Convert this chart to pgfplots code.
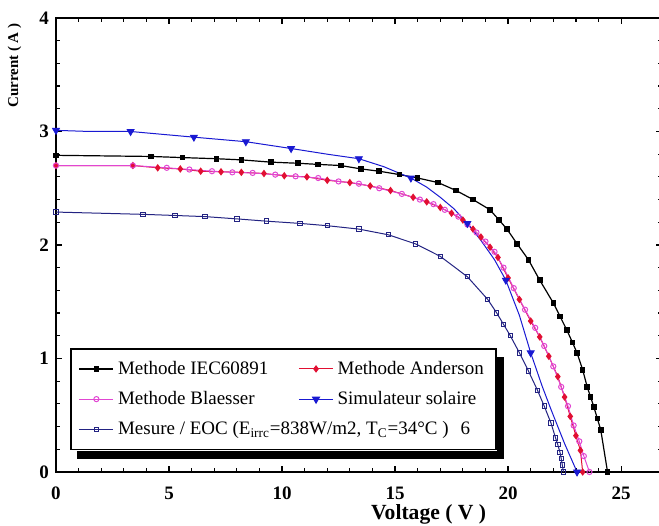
\documentclass[border=0pt]{standalone}
\usepackage{fontspec}
\setmainfont{Liberation Serif}
\usepackage{pgfplots}
\pgfplotsset{compat=1.18}
\definecolor{cAnd}{RGB}{225,15,50}
\definecolor{cBla}{RGB}{225,70,210}
\definecolor{cSim}{RGB}{25,25,210}
\definecolor{cMes}{RGB}{35,35,130}

\pgfplotstableread{
V I
0 2.79
4.2 2.78
5.6 2.77
7.1 2.76
8.2 2.75
9.5 2.73
10.7 2.72
11.6 2.71
12.6 2.70
13.5 2.67
14.3 2.65
15.2 2.62
16.0 2.59
16.9 2.55
17.7 2.48
18.45 2.40
19.2 2.31
19.6 2.22
19.95 2.14
20.4 2.01
20.9 1.87
21.4 1.69
22.0 1.49
22.3 1.37
22.6 1.25
22.85 1.14
23.05 1.05
23.3 0.90
23.5 0.75
23.65 0.66
23.8 0.57
23.95 0.47
24.1 0.37
24.4 0.0
}\iec

\pgfplotstableread{
V I
0 2.70
3.4 2.70
4.5 2.68
5.5 2.67
6.4 2.65
7.3 2.645
8.2 2.64
9.2 2.63
10.1 2.61
11.1 2.60
12.0 2.57
13.0 2.55
13.9 2.52
14.8 2.48
15.8 2.42
16.4 2.38
17.0 2.33
17.5 2.28
18.0 2.22
18.45 2.14
18.8 2.07
19.2 1.98
19.55 1.89
20.0 1.71
20.5 1.52
21.0 1.33
21.4 1.19
21.8 1.02
22.2 0.84
22.5 0.66
22.75 0.49
23.0 0.32
23.2 0.19
23.3 0.0
}\anderson

\pgfplotstableread{
V I
0 2.70
3.4 2.70
4.9 2.68
5.9 2.665
6.9 2.65
7.8 2.64
8.7 2.635
9.7 2.62
10.6 2.605
11.6 2.59
12.5 2.56
13.4 2.54
14.3 2.50
15.3 2.45
16.1 2.40
16.7 2.36
17.2 2.31
17.8 2.25
18.2 2.18
18.6 2.11
19.0 2.03
19.4 1.94
19.8 1.80
20.25 1.62
20.75 1.43
21.2 1.27
21.6 1.11
22.0 0.93
22.35 0.75
22.65 0.58
22.9 0.41
23.15 0.27
23.35 0.14
23.6 0.0
}\blaesser

\pgfplotstableread{
V I
0 3.01
1.5 3.00
3.3 3.00
6.1 2.95
8.4 2.91
10.4 2.85
12.0 2.80
13.4 2.76
14.5 2.69
15.1 2.64
15.7 2.59
16.4 2.51
17.0 2.42
17.6 2.32
18.2 2.19
18.8 2.04
19.4 1.87
19.9 1.69
20.5 1.38
21.0 1.05
21.5 0.76
21.9 0.55
22.5 0.25
23.05 0.0
}\simline

\pgfplotstableread{
V I
0 3.01
3.3 3.00
6.1 2.95
8.4 2.91
10.4 2.85
13.4 2.76
15.7 2.59
18.2 2.19
19.9 1.69
21.0 1.05
23.05 0.0
}\simmarks

\pgfplotstableread{
V I
0 2.29
3.85 2.27
5.27 2.26
6.6 2.25
8.0 2.23
9.3 2.21
10.8 2.19
12.0 2.17
13.4 2.14
14.7 2.09
15.9 2.01
17.0 1.90
18.2 1.72
19.1 1.52
19.5 1.40
19.8 1.30
20.1 1.20
20.5 1.05
20.9 0.89
21.3 0.72
21.6 0.58
21.9 0.43
22.1 0.30
22.2 0.24
22.3 0.17
22.35 0.12
22.4 0.06
22.45 0.0
}\mesure

\begin{document}
\begin{tikzpicture}
\begin{axis}[name=ax, scale only axis, width=302.9pt, height=227pt,
  xmin=0, xmax=26.8, ymin=0, ymax=4,
  xtick={0,5,...,25}, ytick={0,1,2,3,4},
  minor x tick num=4, minor y tick num=4,
  tick align=inside, major tick length=3pt, minor tick length=2pt,
  axis line style={line width=0.8pt},
  every tick/.style={black, line width=0.6pt},
  /pgf/number format/assume math mode=true,
  ticklabel style={font=\bfseries\fontsize{9.5}{11}\selectfont},
  xticklabel style={yshift=-4pt},
  xlabel={Voltage ( V )},
  xlabel style={at={([yshift=-21pt]axis description cs:0.615,0)}, anchor=center, font=\bfseries\fontsize{10.8}{12}\selectfont},
  ylabel={Current ( A )},
  ylabel style={at={([xshift=-20.75pt]axis description cs:0,0.895)}, anchor=center, font=\bfseries\fontsize{7.5}{9}\selectfont},
  legend columns=2, legend cell align=left,
  legend style={name=leg, at={(axis description cs:0.023,0.273)}, anchor=north west,
    draw=black, line width=0.8pt, fill=white,
    font=\fontsize{9.5}{11}\selectfont,
    /tikz/every even column/.append style={column sep=13pt},
    row sep=3pt, inner sep=4pt},
]
\addplot[color=black, line width=0.6pt, mark=square*, mark size=1.1pt] table {\iec};
\addlegendentry{Methode IEC60891}
\addplot[color=cAnd, line width=0.5pt, mark=diamond*, mark size=1.5pt] table {\anderson};
\addlegendentry{Methode Anderson}
\addplot[color=cBla, line width=0.5pt, mark=o, mark size=1.3pt, mark options={fill=white}] table {\blaesser};
\addlegendentry{Methode Blaesser}
\addplot[color=cSim, line width=0.5pt, forget plot] table {\simline};
\addplot[color=cSim, only marks, mark=triangle*, mark size=2pt, mark options={rotate=180}, forget plot] table {\simmarks};
\addlegendimage{color=cSim, line width=0.5pt, mark=triangle*, mark size=2pt, mark options={rotate=180}}
\addlegendentry{Simulateur solaire}
\addplot[color=cMes, line width=0.5pt, mark=square, mark size=1.1pt] table {\mesure};
\addlegendentry{\makebox[0pt][l]{Mesure / EOC (E\textsubscript{irrc}=838W/m2, T\textsubscript{C}=34°C )\hspace{6pt}6}}
\end{axis}
\fill[black] ([xshift=3.5pt,yshift=-0.4pt]leg.south west) rectangle ([xshift=3.5pt,yshift=-4.5pt]leg.south east);
\fill[black] ([xshift=0.4pt,yshift=-4.5pt]leg.south east) rectangle ([xshift=3.5pt,yshift=-4.5pt]leg.north east);
\pgfresetboundingbox
\path[use as bounding box] ([xshift=-28pt,yshift=-27pt]ax.south west) rectangle ([xshift=301.5pt,yshift=9pt]ax.north west);
\end{tikzpicture}
\end{document}
